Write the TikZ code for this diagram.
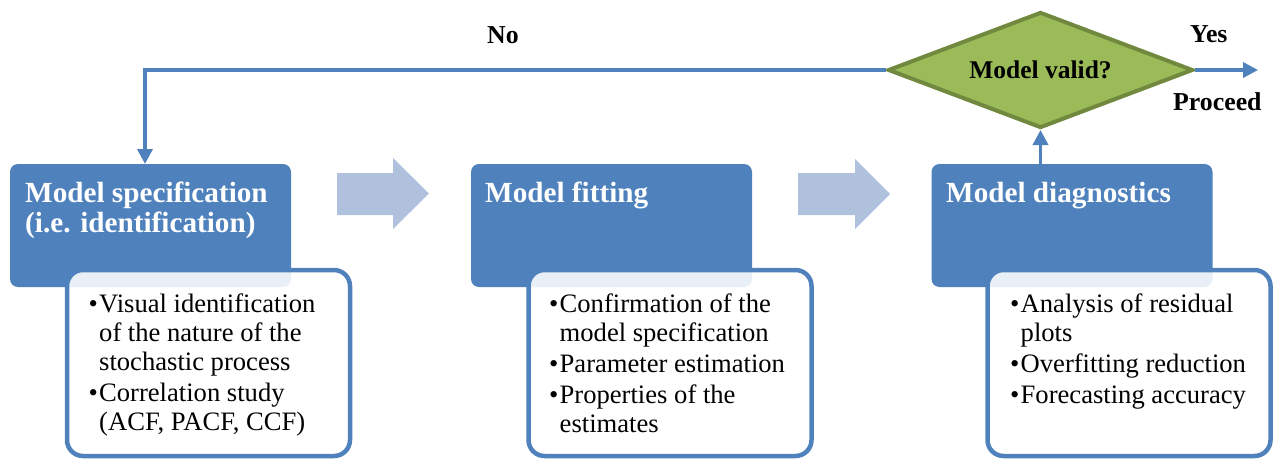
\documentclass[tikz,border=0pt]{standalone}
\usepackage{fontspec}
\setmainfont{Liberation Serif}
\usetikzlibrary{shapes.geometric,arrows.meta}
\definecolor{boxblue}{RGB}{79,129,189}
\definecolor{arrowblue}{RGB}{176,193,222}
\definecolor{diamfill}{RGB}{155,187,89}
\definecolor{diamedge}{RGB}{113,137,63}
\newcommand{\bul}{\makebox[10.5pt][l]{\textbullet}}
\newcommand{\ind}{\hspace*{10.5pt}}
\begin{document}
\begin{tikzpicture}[x=1pt,y=-1pt,
 hdrbox/.style={draw=none,fill=boxblue,rounded corners=8pt,minimum width=281pt,minimum height=123pt,inner sep=0pt},
 listbox/.style={draw=boxblue,line width=4.5pt,fill=white,fill opacity=0.88,rounded corners=16pt,minimum width=283pt,minimum height=186pt,inner sep=0pt},
 hdrtext/.style={font=\fontsize{29.2}{30}\selectfont\bfseries,text=white,align=left,inner sep=0pt,anchor=north west},
 listtext/.style={font=\fontsize{26.6}{29}\selectfont,align=left,inner sep=0pt,anchor=north west},
 flowarrow/.style={fill=arrowblue},
 conn/.style={draw=boxblue,line width=3.5pt,-{Triangle[length=15pt,width=15pt]}},
 decision/.style={diamond,draw=diamedge,fill=diamfill,line width=4pt,aspect=2.63,minimum width=305pt,minimum height=116pt,inner sep=0pt,font=\fontsize{25.5}{27}\selectfont\bfseries},
 lbl/.style={font=\fontsize{25.8}{27}\selectfont\bfseries,inner sep=0pt}]
\useasboundingbox (0,0) rectangle (1274,461);
% header boxes
\node[hdrbox] (spec) at (150.5,225.5) {};
\node[hdrbox] (fit) at (611.5,225.5) {};
\node[hdrbox] (diag) at (1072,225.5) {};
% list boxes
\node[listbox] (speclist) at (208.5,363) {};
\node[listbox] (fitlist) at (670,363) {};
\node[listbox] (diaglist) at (1129,363) {};
% header texts
\node[hdrtext] (spect) at (25,182) {Model specification\\(i.e. identification)};
\node[hdrtext] (fitt) at (485,182) {Model fitting};
\node[hdrtext] (diagt) at (946,182) {Model diagnostics};
% list texts
\node[listtext] (specitems) at (88.5,294) {\bul Visual identification\\\ind of the nature of the\\\ind stochastic process\\[2pt]\bul Correlation study\\\ind (ACF, PACF, CCF)};
\node[listtext] (fititems) at (549,294) {\bul Confirmation of the\\\ind model specification\\[2pt]\bul Parameter estimation\\[2pt]\bul Properties of the\\\ind estimates};
\node[listtext] (diagitems) at (1010,294) {\bul Analysis of residual\\\ind plots\\[2pt]\bul Overfitting reduction\\[2pt]\bul Forecasting accuracy};
% block arrows
\fill[flowarrow] (337,173) -- (393,173) -- (393,158) -- (429,193.5) -- (393,229) -- (393,215) -- (337,215) -- cycle;
\fill[flowarrow] (798,173) -- (855,173) -- (855,159) -- (890,194) -- (855,229) -- (855,215) -- (798,215) -- cycle;
% decision
\node[decision] (valid) at (1040.5,70) {Model valid?};
% labels
\node[lbl,anchor=base west] (no) at (487,43) {No};
\node[lbl,anchor=base west] (yes) at (1190,42) {Yes};
\node[lbl,anchor=base west] (proceed) at (1173,110) {Proceed};
% connectors
\coordinate (specin) at (145,164);
\coordinate (proceedend) at (1258,70);
\draw[conn] (valid.west) -| (specin);
\draw[conn] (diag.north -| valid.south) -- (valid.south);
\draw[conn] (valid.east) -- (proceedend);
\end{tikzpicture}
\end{document}
